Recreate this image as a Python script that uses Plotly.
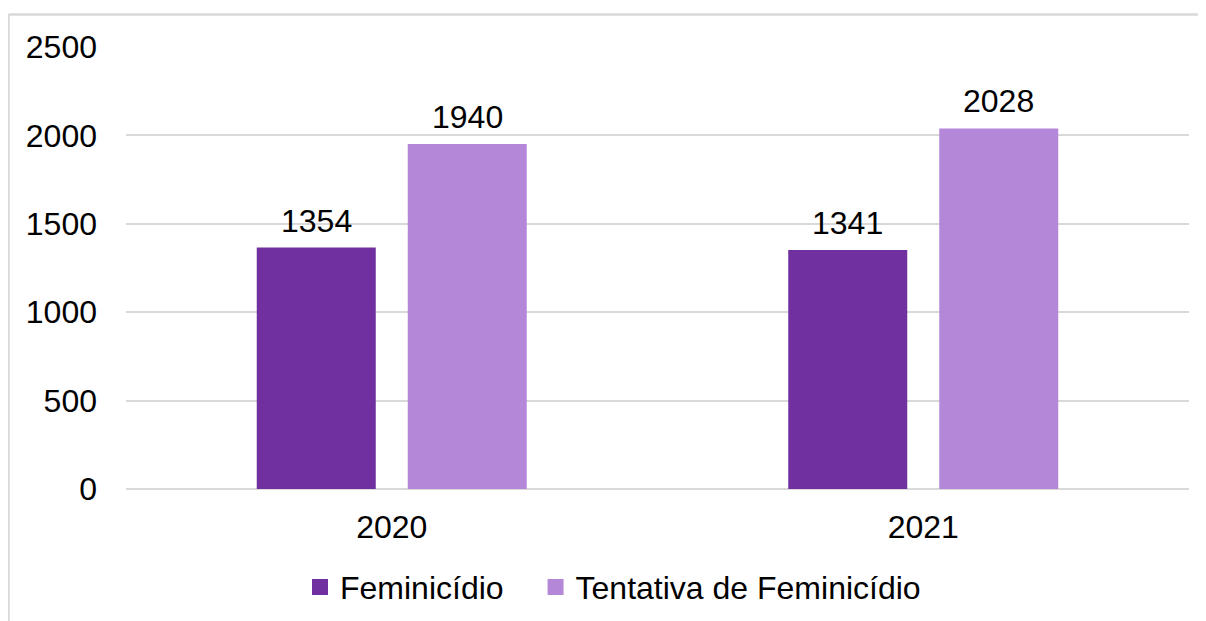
import plotly.graph_objects as go

categories = ["2020", "2021"]
feminicidio = [1354, 1341]
tentativa = [1940, 2028]
series_names = ["Feminicídio", "Tentativa de Feminicídio"]
colors = ["#7030A0", "#B587D9"]
y_ticks = [0, 500, 1000, 1500, 2000, 2500]

FONT = "Liberation Sans, Arial, sans-serif"
LW = 4

fig = go.Figure()
for name, vals, col, lg in zip(series_names, [feminicidio, tentativa], colors, ["legend", "legend2"]):
    fig.add_trace(go.Bar(name=name, x=categories, y=vals, marker_color=col,
                         marker_line=dict(width=LW, color=col), legend=lg,
                         hoverinfo="x+y"))

# data labels (x given as category index)
offsets = [-75.5, 75.5]
for vals, off in zip([feminicidio, tentativa], offsets):
    for i, v in enumerate(vals):
        fig.add_annotation(x=i, y=v, text=str(v), showarrow=False,
                           xshift=off, yshift=29, yanchor="middle",
                           font=dict(size=32, color="#000000", family=FONT))

# outer frame (left and top border)
fig.add_shape(type="line", xref="paper", yref="paper", x0=-0.1105, x1=1.03,
              y0=1.0735, y1=1.0735, line=dict(color="#D9D9D9", width=2.5))
fig.add_shape(type="line", xref="paper", yref="paper", x0=-0.1105, x1=-0.1105,
              y0=1.0735, y1=-0.31, line=dict(color="#D9D9D9", width=2.5))

leg_common = dict(orientation="h", xanchor="left", y=-0.222, yanchor="middle",
                  font=dict(size=32, family=FONT), itemclick=False,
                  bgcolor="rgba(0,0,0,0)")

fig.update_layout(
    width=1198, height=613,
    margin=dict(l=118, r=17, t=39, b=132, autoexpand=False),
    paper_bgcolor="white", plot_bgcolor="white",
    barmode="group", bargap=0.4318, bargroupgap=1 - (119 - LW) / 151,
    font=dict(family=FONT, size=32, color="#000000"),
    showlegend=True,
    legend=dict(x=0.1637, **leg_common),
    legend2=dict(x=0.3853, **leg_common),
    xaxis=dict(type="category", range=[-0.5, 1.5], showgrid=False, showline=False, ticks="",
               tickfont=dict(size=32, family=FONT), ticklabelstandoff=16),
    yaxis=dict(range=[0, 2500], tickvals=y_ticks, showgrid=True,
               gridcolor="#D9D9D9", gridwidth=1.5, zeroline=True,
               zerolinecolor="#D9D9D9", zerolinewidth=1.5, showline=False,
               ticks="", tickfont=dict(size=32, family=FONT), ticklabelstandoff=28),
)

fig.write_html("out.html")
